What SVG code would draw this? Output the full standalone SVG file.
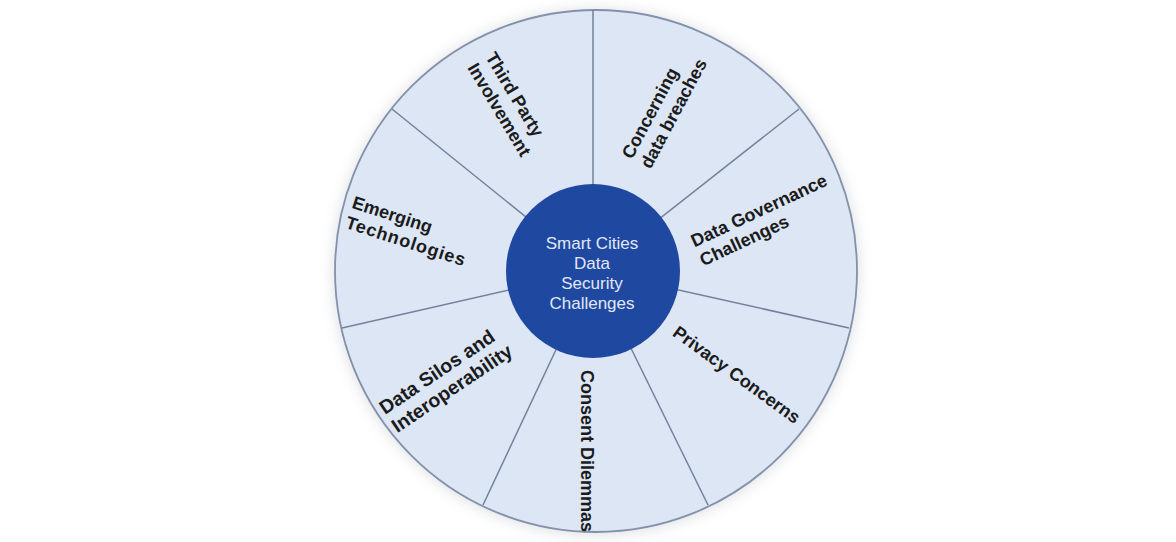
<svg xmlns="http://www.w3.org/2000/svg" width="1176" height="542" viewBox="0 0 1176 542">
  <defs>
    <filter id="shadow" x="-20%" y="-20%" width="140%" height="140%">
      <feGaussianBlur stdDeviation="7"/>
    </filter>
  </defs>
  <style>
    .lbl { font-family: "Liberation Sans", Arial, sans-serif; font-size: 18px; font-weight: bold; fill: #1b1b1b; }
    .ctr { font-family: "Liberation Sans", Arial, sans-serif; font-size: 17px; fill: #e2e7f7; text-anchor: middle; }
    .spoke { stroke: #73819c; stroke-width: 1.5; fill: none; }
  </style>
  <rect width="1176" height="542" fill="#ffffff"/>
  <circle cx="596" cy="272" r="263" fill="#b8bcc4" opacity="0.45" filter="url(#shadow)"/>
  <g id="wheel">
    <circle cx="596" cy="271" r="261" fill="#dce6f4" stroke="#8391ab" stroke-width="1.8"/>
  </g>
  <g id="connectors">
    <line class="spoke" x1="593" y1="271" x2="593" y2="10"/>
    <line class="spoke" x1="593" y1="271" x2="799" y2="109"/>
    <line class="spoke" x1="593" y1="271" x2="849" y2="328"/>
    <line class="spoke" x1="593" y1="271" x2="708" y2="505"/>
    <line class="spoke" x1="593" y1="271" x2="483" y2="505"/>
    <line class="spoke" x1="593" y1="271" x2="342" y2="328"/>
    <line class="spoke" x1="593" y1="271" x2="392" y2="109"/>
  </g>
  <g id="center">
    <circle cx="593" cy="271" r="87" fill="#1f49a1"/>
    <text class="ctr" x="592" y="249">Smart Cities</text>
    <text class="ctr" x="592" y="269">Data</text>
    <text class="ctr" x="592" y="289">Security</text>
    <text class="ctr" x="592" y="309">Challenges</text>
  </g>
  <g id="concerning-data-breaches" transform="translate(632 160) rotate(-62)">
    <text class="lbl" x="0" y="0">Concerning</text>
    <text class="lbl" x="0" y="21">data breaches</text>
  </g>
  <g id="data-governance-challenges" transform="translate(694.5 247.4) rotate(-25)">
    <text class="lbl" x="0" y="0">Data Governance</text>
    <text class="lbl" x="0" y="21">Challenges</text>
  </g>
  <g id="privacy-concerns" transform="translate(671.5 334.9) rotate(36)">
    <text class="lbl" x="0" y="0">Privacy Concerns</text>
  </g>
  <g id="consent-dilemmas" transform="translate(581 370) rotate(90)">
    <text class="lbl" x="0" y="0">Consent Dilemmas</text>
  </g>
  <g id="data-silos-interoperability" transform="translate(385 415) rotate(-34)">
    <text class="lbl" x="0" y="0" style="font-size:19.5px">Data Silos and</text>
    <text class="lbl" x="0" y="22" style="font-size:19.5px">Interoperability</text>
  </g>
  <g id="emerging-technologies" transform="translate(351 207.7) rotate(18)">
    <text class="lbl" x="0" y="0">Emerging</text>
    <text class="lbl" x="0" y="21" letter-spacing="0.9">Technologies</text>
  </g>
  <g id="third-party-involvement" transform="translate(485 57) rotate(59)">
    <text class="lbl" x="0" y="0">Third Party</text>
    <text class="lbl" x="0" y="21">Involvement</text>
  </g>
</svg>
